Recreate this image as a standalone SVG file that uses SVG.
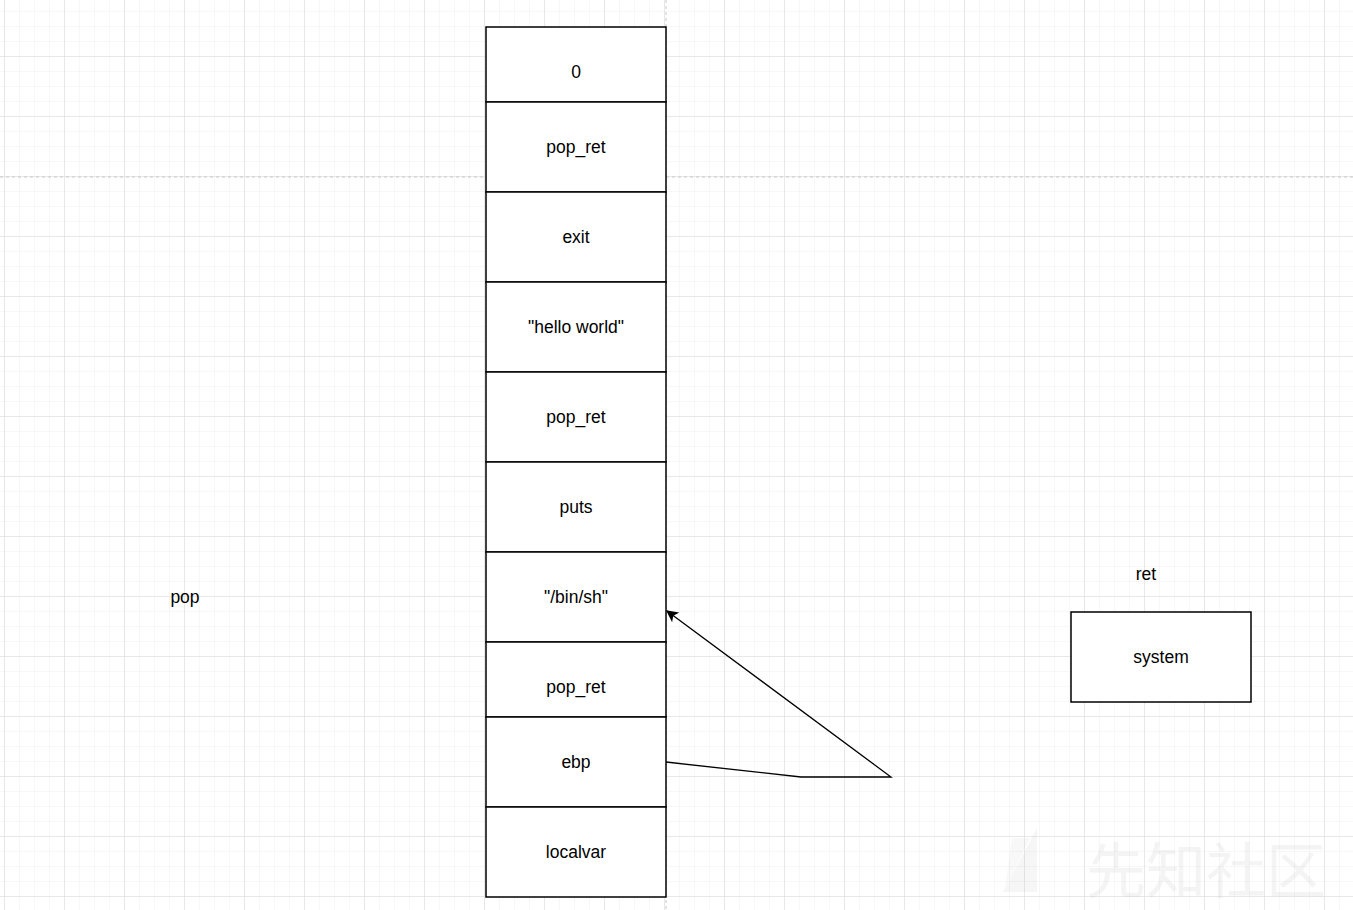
<svg xmlns="http://www.w3.org/2000/svg" width="1353" height="910" viewBox="0 0 1353 910">
<defs>
<pattern id="minor" x="4" y="11" width="15" height="15" patternUnits="userSpaceOnUse">
<path d="M0 0H15M0 0V15" fill="none" stroke="#efefef" stroke-width="1"/>
</pattern>
<pattern id="major" x="4" y="56" width="60" height="60" patternUnits="userSpaceOnUse">
<path d="M0 0H60M0 0V60" fill="none" stroke="#d9d9d9" stroke-width="1"/>
</pattern>
<marker id="arr" viewBox="0 0 10 10" refX="9" refY="5" markerWidth="12" markerHeight="12" markerUnits="userSpaceOnUse" orient="auto">
<path d="M0 0L10 5L0 10L2.5 5Z" fill="#000"/>
</marker>
<style>
.box{fill:#fff;stroke:#000;stroke-width:1.5}
.lbl{font-family:"Liberation Sans",Arial,sans-serif;font-size:17.5px;fill:#000;text-anchor:middle;dominant-baseline:central}
.edge{fill:none;stroke:#000;stroke-width:1.3}
</style>
</defs>
<rect width="1353" height="910" fill="#fff"/>
<rect width="1353" height="910" fill="url(#minor)"/>
<rect width="1353" height="910" fill="url(#major)"/>
<line x1="0" y1="177" x2="1353" y2="177" stroke="#c8c8c8" stroke-dasharray="3 3"/>
<line x1="666" y1="0" x2="666" y2="910" stroke="#c8c8c8" stroke-dasharray="3 3"/>
<g id="watermark" opacity="0.12">
<polygon points="1003,892 1037,828 1037,892" fill="#bbb"/>
<polygon points="1012,838 1030,838 1005,888" fill="#ccc"/>
<text x="1206" y="866" font-family="'Noto Sans CJK SC',sans-serif" font-size="60" fill="#aaa" text-anchor="middle" dominant-baseline="central">先知社区</text>
</g>
<g id="n0"><rect class="box" x="486" y="27" width="180" height="75"/><text class="lbl" x="576" y="72">0</text></g>
<g id="n1"><rect class="box" x="486" y="102" width="180" height="90"/><text class="lbl" x="576" y="147">pop_ret</text></g>
<g id="n2"><rect class="box" x="486" y="192" width="180" height="90"/><text class="lbl" x="576" y="237">exit</text></g>
<g id="n3"><rect class="box" x="486" y="282" width="180" height="90"/><text class="lbl" x="576" y="327">"hello world"</text></g>
<g id="n4"><rect class="box" x="486" y="372" width="180" height="90"/><text class="lbl" x="576" y="417">pop_ret</text></g>
<g id="n5"><rect class="box" x="486" y="462" width="180" height="90"/><text class="lbl" x="576" y="507">puts</text></g>
<g id="n6"><rect class="box" x="486" y="552" width="180" height="90"/><text class="lbl" x="576" y="597">"/bin/sh"</text></g>
<g id="n7"><rect class="box" x="486" y="642" width="180" height="75"/><text class="lbl" x="576" y="687">pop_ret</text></g>
<g id="n8"><rect class="box" x="486" y="717" width="180" height="90"/><text class="lbl" x="576" y="762">ebp</text></g>
<g id="n9"><rect class="box" x="486" y="807" width="180" height="90"/><text class="lbl" x="576" y="852">localvar</text></g>
<g id="system"><rect class="box" x="1071" y="612" width="180" height="90"/><text class="lbl" x="1161" y="657">system</text></g>
<g id="ret"><text class="lbl" x="1146" y="574">ret</text></g>
<g id="pop"><text class="lbl" x="185" y="597">pop</text></g>
<g id="connectors">
<path class="edge" d="M666 762L801 777L891 777L667 611" marker-end="url(#arr)"/>
</g>
</svg>
